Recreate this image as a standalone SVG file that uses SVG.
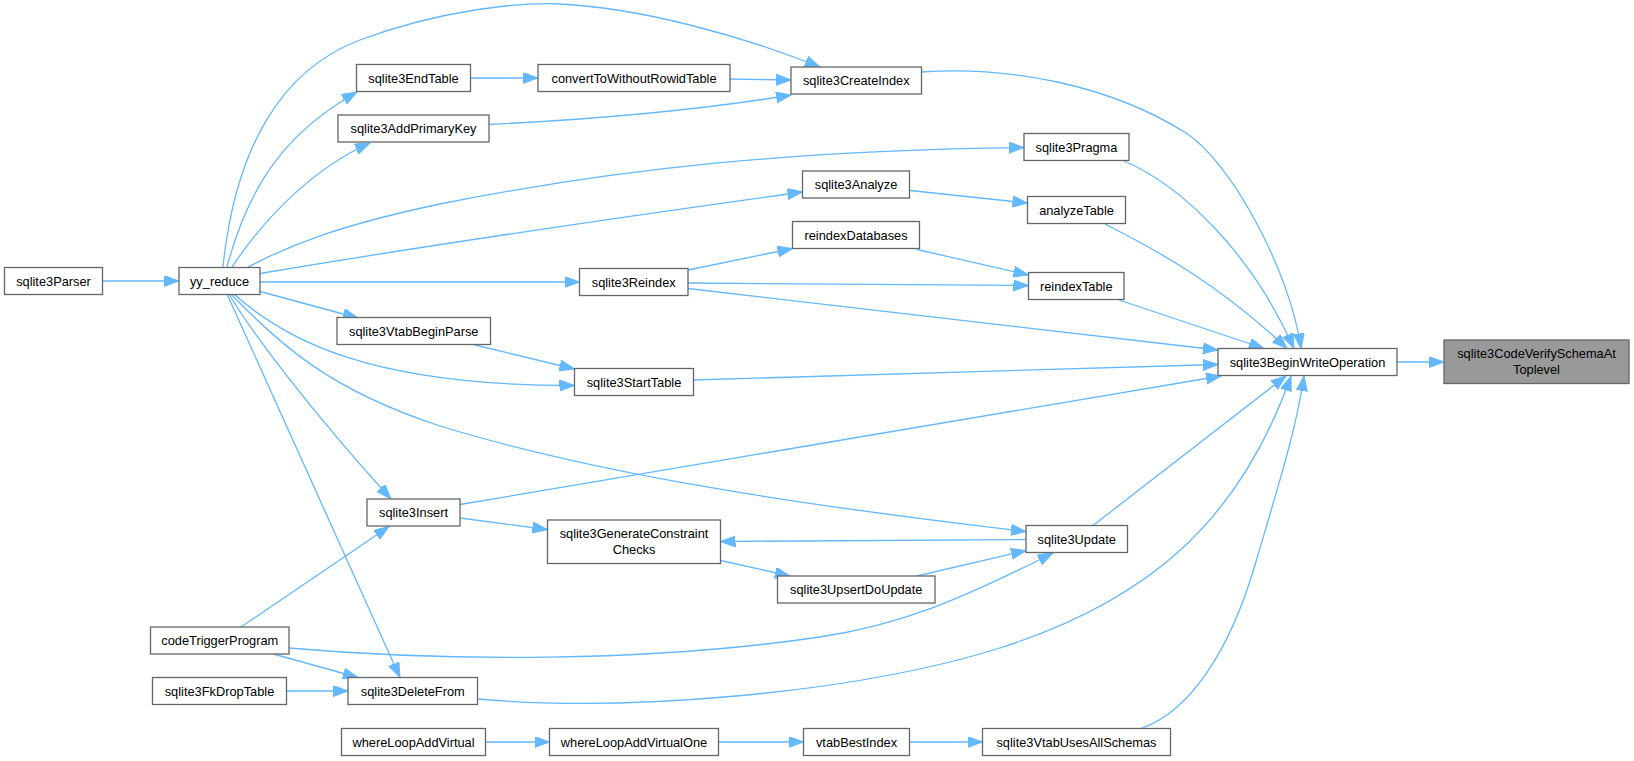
<svg xmlns="http://www.w3.org/2000/svg" width="1634" height="761" viewBox="0 0 1634 761">
<style>
.n rect{fill:#ffffff;stroke:#666666;stroke-width:1.3}
.n.hl rect{fill:#999999}
.n text{font-family:"Liberation Sans",Arial,Helvetica,sans-serif;font-size:12.8px;fill:#000000;text-anchor:middle}
.e path{fill:none;stroke:#63b8ff;stroke-width:1.3;marker-end:url(#ah)}
</style>
<defs>
<marker id="ah" markerUnits="userSpaceOnUse" markerWidth="16" markerHeight="12" refX="15" refY="5.5" orient="auto">
<path d="M0,0 L15,5.5 L0,11 z" fill="#63b8ff" stroke="#63b8ff" stroke-width="1"/>
</marker>
</defs>
<rect x="0" y="0" width="1634" height="761" fill="#ffffff"/>
<g id="connectors" class="e">
<path d="M102.5,281 L179,281"/>
<path d="M227,267 C250,180 290,130 357,92"/>
<path d="M232,267 C270,210 320,165 370,143"/>
<path d="M223,267 C235,150 280,70 360,40 C440,10 520,2 560,4 C640,8 740,35 820,67"/>
<path d="M248,267 C290,245 340,225 440,204 C620,168 800,150 1024,147.5"/>
<path d="M260,273.5 C400,250 600,220 802.5,192"/>
<path d="M260,282 L579.5,282"/>
<path d="M260,291.5 L358,318"/>
<path d="M475,345 L574.5,369"/>
<path d="M234,294 C285,340 370,386 574.5,385.5"/>
<path d="M231,294 C280,345 330,390 440,426 C600,475 800,505 1026,531.5"/>
<path d="M229,294 C250,330 310,410 391,499"/>
<path d="M227,294 L400,677.5"/>
<path d="M241,627 L389,526.5"/>
<path d="M289,648 C450,662 650,662 820,637 C900,625 960,600 1053,553"/>
<path d="M273.5,654 L358,677.5"/>
<path d="M286.5,691 L348,691"/>
<path d="M477.5,699 C620,712 850,695 1000,648 C1150,600 1240,520 1291,376"/>
<path d="M485.5,742 L549.5,742"/>
<path d="M718.5,742 L803.5,742"/>
<path d="M909.5,742 L982.5,742"/>
<path d="M1141,728.5 C1190,712 1230,650 1255,565 C1280,480 1296,430 1304,376"/>
<path d="M1093,525.5 L1286,376"/>
<path d="M1026,539.5 L720.5,541.5"/>
<path d="M720.5,560.5 L790,576"/>
<path d="M917,576 L1026,550.5"/>
<path d="M460,518 L547.5,529.5"/>
<path d="M460,504.5 L1221,376"/>
<path d="M693.5,380 L1218,364.5"/>
<path d="M688,288.5 L1218,350"/>
<path d="M688,270 L792.5,248.5"/>
<path d="M688,283 L1028.5,285.5"/>
<path d="M917,249.5 L1028.5,275"/>
<path d="M1119,300 L1264,348.5"/>
<path d="M1105,224 C1160,252 1220,285 1287,348.5"/>
<path d="M910,190.5 L1027.5,203"/>
<path d="M1124,161 C1180,185 1250,250 1294,348.5"/>
<path d="M921,72 C1010,66 1110,85 1186,133 C1230,161 1290,270 1301,348.5"/>
<path d="M730,79 L791,80"/>
<path d="M489,124.5 C600,119 700,110 791,95"/>
<path d="M470.5,78 L538,78"/>
<path d="M1397,362 L1444,362"/>
</g>
<g id="sqlite3Parser" class="n"><rect x="4.5" y="267.5" width="98" height="27"/><text x="53.5" y="285.5">sqlite3Parser</text></g>
<g id="yy_reduce" class="n"><rect x="179" y="267.5" width="81" height="27"/><text x="219.5" y="285.5">yy_reduce</text></g>
<g id="sqlite3EndTable" class="n"><rect x="356.5" y="64.5" width="114" height="27"/><text x="413.5" y="82.5">sqlite3EndTable</text></g>
<g id="sqlite3AddPrimaryKey" class="n"><rect x="338" y="115" width="151" height="27"/><text x="413.5" y="133">sqlite3AddPrimaryKey</text></g>
<g id="convertToWithoutRowidTable" class="n"><rect x="538" y="64.5" width="192" height="27"/><text x="634" y="82.5">convertToWithoutRowidTable</text></g>
<g id="sqlite3CreateIndex" class="n"><rect x="791" y="67" width="130.5" height="27"/><text x="856.25" y="85">sqlite3CreateIndex</text></g>
<g id="sqlite3Pragma" class="n"><rect x="1024" y="133.5" width="105" height="27"/><text x="1076.5" y="151.5">sqlite3Pragma</text></g>
<g id="sqlite3Analyze" class="n"><rect x="802.5" y="171" width="107" height="27"/><text x="856" y="189">sqlite3Analyze</text></g>
<g id="analyzeTable" class="n"><rect x="1027.5" y="196.5" width="98" height="27"/><text x="1076.5" y="214.5">analyzeTable</text></g>
<g id="reindexDatabases" class="n"><rect x="792.5" y="221.5" width="127" height="27"/><text x="856" y="239.5">reindexDatabases</text></g>
<g id="sqlite3Reindex" class="n"><rect x="579.5" y="268.5" width="108.5" height="27"/><text x="633.75" y="286.5">sqlite3Reindex</text></g>
<g id="reindexTable" class="n"><rect x="1028.5" y="272.5" width="95.5" height="27"/><text x="1076.25" y="290.5">reindexTable</text></g>
<g id="sqlite3VtabBeginParse" class="n"><rect x="337" y="317.5" width="153.5" height="27"/><text x="413.75" y="335.5">sqlite3VtabBeginParse</text></g>
<g id="sqlite3StartTable" class="n"><rect x="574.5" y="368.5" width="119" height="27"/><text x="634" y="386.5">sqlite3StartTable</text></g>
<g id="sqlite3BeginWriteOperation" class="n"><rect x="1218" y="348.5" width="179" height="27"/><text x="1307.5" y="366.5">sqlite3BeginWriteOperation</text></g>
<g id="sqlite3CodeVerifySchemaAtToplevel" class="n hl"><rect x="1444" y="340" width="185" height="43.5"/><text x="1536.5" y="357.5">sqlite3CodeVerifySchemaAt</text><text x="1536.5" y="373.5">Toplevel</text></g>
<g id="sqlite3Insert" class="n"><rect x="367" y="499" width="93" height="27"/><text x="413.5" y="517">sqlite3Insert</text></g>
<g id="sqlite3GenerateConstraintChecks" class="n"><rect x="547.5" y="520" width="173" height="43.5"/><text x="634" y="537.5">sqlite3GenerateConstraint</text><text x="634" y="553.5">Checks</text></g>
<g id="sqlite3Update" class="n"><rect x="1026" y="525.5" width="101.5" height="27"/><text x="1076.75" y="543.5">sqlite3Update</text></g>
<g id="sqlite3UpsertDoUpdate" class="n"><rect x="777.5" y="576" width="157.5" height="27"/><text x="856.25" y="594">sqlite3UpsertDoUpdate</text></g>
<g id="codeTriggerProgram" class="n"><rect x="150.5" y="627" width="138.5" height="27"/><text x="219.75" y="645">codeTriggerProgram</text></g>
<g id="sqlite3FkDropTable" class="n"><rect x="152.5" y="677.5" width="134" height="27"/><text x="219.5" y="695.5">sqlite3FkDropTable</text></g>
<g id="sqlite3DeleteFrom" class="n"><rect x="348" y="677.5" width="129.5" height="27"/><text x="412.75" y="695.5">sqlite3DeleteFrom</text></g>
<g id="whereLoopAddVirtual" class="n"><rect x="341.5" y="728.5" width="144" height="27"/><text x="413.5" y="746.5">whereLoopAddVirtual</text></g>
<g id="whereLoopAddVirtualOne" class="n"><rect x="549.5" y="728.5" width="169" height="27"/><text x="634" y="746.5">whereLoopAddVirtualOne</text></g>
<g id="vtabBestIndex" class="n"><rect x="803.5" y="728.5" width="106" height="27"/><text x="856.5" y="746.5">vtabBestIndex</text></g>
<g id="sqlite3VtabUsesAllSchemas" class="n"><rect x="982.5" y="728.5" width="188" height="27"/><text x="1076.5" y="746.5">sqlite3VtabUsesAllSchemas</text></g>
</svg>
